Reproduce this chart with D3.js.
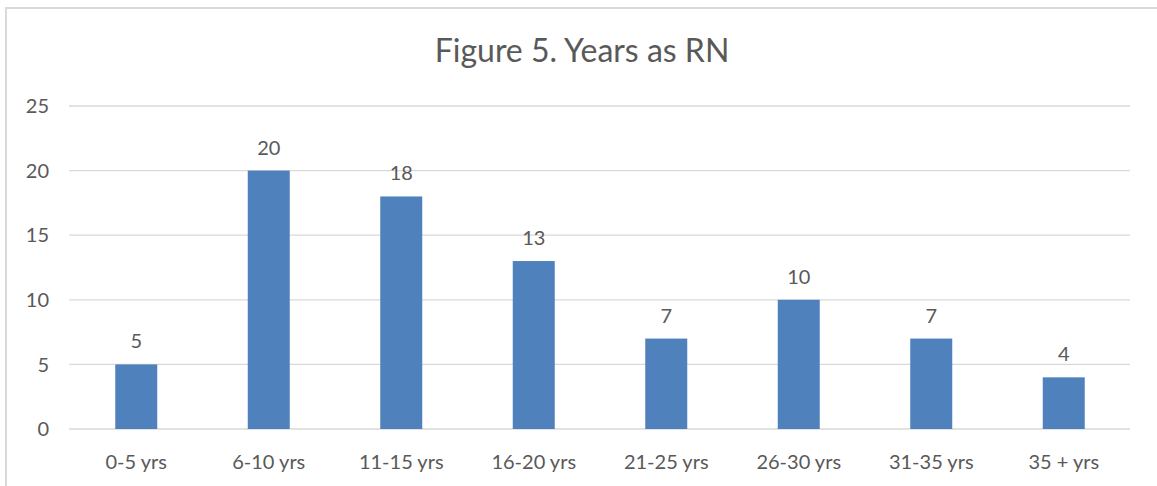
<!DOCTYPE html>
<html><head><meta charset="utf-8">
<script src="https://cdn.jsdelivr.net/npm/d3@7"></script>
<style>body{margin:0;background:#fff;} svg{display:block;}</style>
</head><body>
<svg id="c" width="1157" height="486"></svg>
<script>
const categories = ["0-5 yrs","6-10 yrs","11-15 yrs","16-20 yrs","21-25 yrs","26-30 yrs","31-35 yrs","35 + yrs"];
const values = [5,20,18,13,7,10,7,4];
const yTicks = [0,5,10,15,20,25];
const title = "Figure 5. Years as RN";

const svg = d3.select("#c");
const font = "Lato, 'Open Sans', sans-serif";
const txt = "#595959";

svg.append("rect").attr("x",6).attr("y",8).attr("width",1300).attr("height",700)
  .attr("fill","#fff").attr("stroke","#d9d9d9").attr("stroke-width",2);

const x = d3.scaleBand().domain(categories).range([70,1130]).paddingInner(0.683).paddingOuter(0.3415);
const y = d3.scaleLinear().domain([0,25]).range([429,106]);

svg.append("g").selectAll("line").data(yTicks).join("line")
  .attr("x1",69).attr("x2",1130).attr("y1",d=>y(d)).attr("y2",d=>y(d))
  .attr("stroke","#d9d9d9").attr("stroke-width",1.3);

svg.append("g").selectAll("text").data(yTicks).join("text")
  .attr("x",49).attr("y",d=>y(d)).attr("dy","0.36em").attr("text-anchor","end")
  .attr("font-family",font).attr("font-size",20).attr("fill",txt).text(d=>d);

svg.append("g").selectAll("rect").data(values).join("rect")
  .attr("x",(d,i)=>x(categories[i])).attr("width",x.bandwidth())
  .attr("y",d=>y(d)).attr("height",d=>y(0)-y(d)).attr("fill","#4f81bd");

svg.append("g").selectAll("text").data(values).join("text")
  .attr("x",(d,i)=>x(categories[i])+x.bandwidth()/2).attr("y",d=>y(d)-16)
  .attr("text-anchor","middle").attr("font-family",font).attr("font-size",20).attr("fill",txt).text(d=>d);

svg.append("g").selectAll("text").data(categories).join("text")
  .attr("x",d=>x(d)+x.bandwidth()/2).attr("y",469)
  .attr("text-anchor","middle").attr("font-family",font).attr("font-size",20).attr("fill",txt).text(d=>d);

svg.append("text").attr("x",582).attr("y",62).attr("text-anchor","middle")
  .attr("font-family",font).attr("font-size",32).attr("fill",txt).text(title);
</script>
</body></html>
